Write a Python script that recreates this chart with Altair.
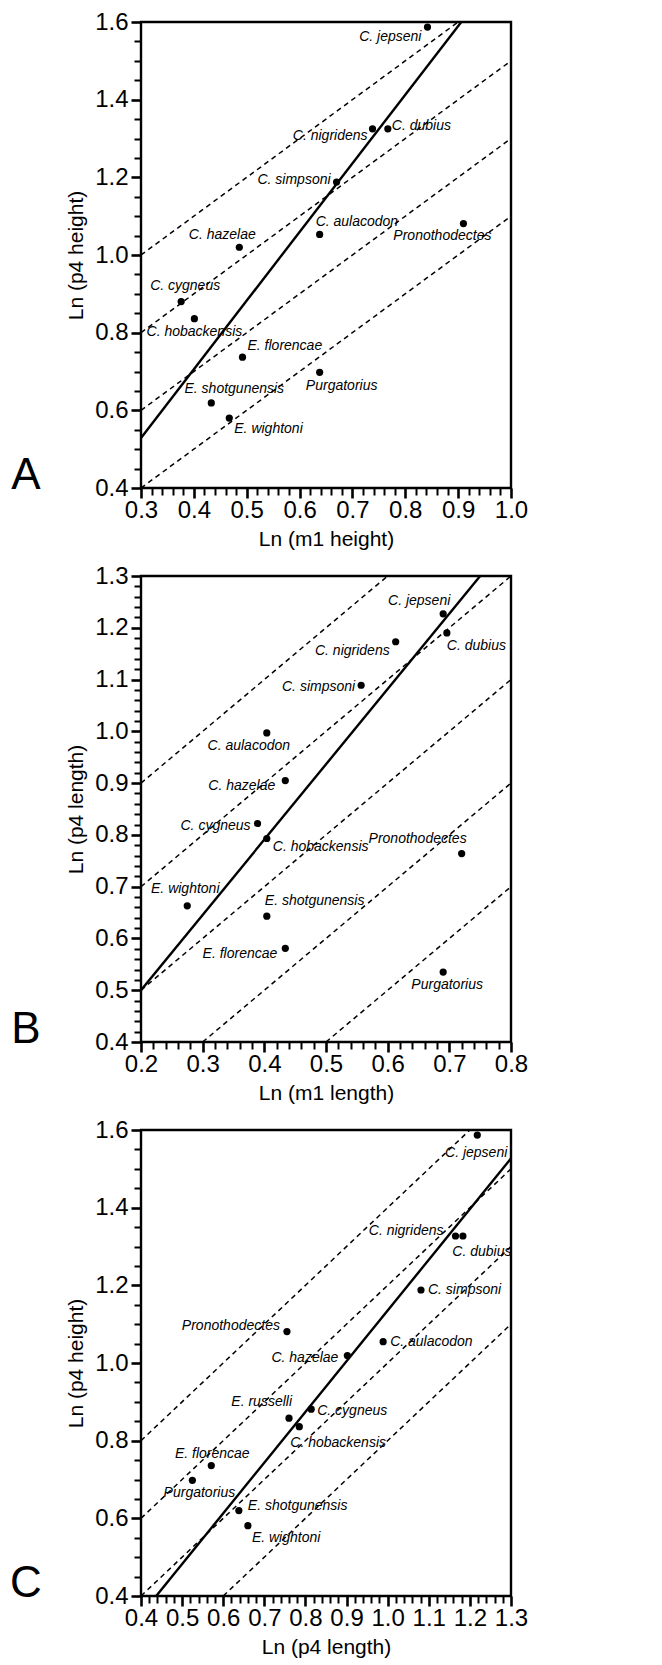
import altair as alt
import pandas as pd

# ---------------- Panel A : Ln(m1 height) vs Ln(p4 height) ----------------
a_names = ["C. jepseni", "C. nigridens", "C. dubius", "C. simpsoni", "C. aulacodon",
           "Pronothodectes", "C. hazelae", "C. cygneus", "C. hobackensis",
           "E. florencae", "Purgatorius", "E. shotgunensis", "E. wightoni"]
a_x = [0.842, 0.738, 0.767, 0.670, 0.638, 0.910, 0.486, 0.376, 0.401, 0.492, 0.638, 0.433, 0.467]
a_y = [1.587, 1.325, 1.325, 1.188, 1.053, 1.081, 1.020, 0.880, 0.836, 0.737, 0.698, 0.619, 0.580]
a_fit_x = [0.3, 0.906]
a_fit_y = [0.529, 1.6]
a_dash_x0 = [0.3, 0.3, 0.3, 0.3]
a_dash_y0 = [1.0, 0.8, 0.6, 0.4]
a_dash_x1 = [0.9, 1.0, 1.0, 1.0]
a_dash_y1 = [1.6, 1.5, 1.3, 1.1]

# ---------------- Panel B : Ln(m1 length) vs Ln(p4 length) ----------------
b_names = ["C. jepseni", "C. dubius", "C. nigridens", "C. simpsoni", "C. aulacodon",
           "C. hazelae", "C. cygneus", "C. hobackensis", "Pronothodectes",
           "E. wightoni", "E. shotgunensis", "E. florencae", "Purgatorius"]
b_x = [0.690, 0.696, 0.613, 0.557, 0.404, 0.434, 0.389, 0.404, 0.720, 0.275, 0.404, 0.434, 0.690]
b_y = [1.227, 1.190, 1.173, 1.089, 0.997, 0.905, 0.822, 0.793, 0.764, 0.663, 0.643, 0.581, 0.535]
b_fit_x = [0.2, 0.75]
b_fit_y = [0.5, 1.3]
b_dash_x0 = [0.2, 0.2, 0.2, 0.3, 0.5]
b_dash_y0 = [0.9, 0.7, 0.5, 0.4, 0.4]
b_dash_x1 = [0.6, 0.8, 0.8, 0.8, 0.8]
b_dash_y1 = [1.3, 1.3, 1.1, 0.9, 0.7]

# ---------------- Panel C : Ln(p4 length) vs Ln(p4 height) ----------------
c_names = ["C. jepseni", "C. nigridens", "C. dubius", "C. simpsoni", "C. aulacodon",
           "Pronothodectes", "C. hazelae", "E. russelli", "C. cygneus", "C. hobackensis",
           "E. florencae", "Purgatorius", "E. shotgunensis", "E. wightoni"]
c_x = [1.218, 1.165, 1.183, 1.081, 0.989, 0.755, 0.902, 0.760, 0.814, 0.785, 0.571, 0.525, 0.638, 0.660]
c_y = [1.587, 1.327, 1.327, 1.188, 1.055, 1.081, 1.019, 0.858, 0.881, 0.836, 0.736, 0.698, 0.620, 0.581]
c_fit_x = [0.437, 1.3]
c_fit_y = [0.4, 1.527]
c_dash_x0 = [0.4, 0.4, 0.4, 0.6]
c_dash_y0 = [0.8, 0.6, 0.4, 0.4]
c_dash_x1 = [1.2, 1.3, 1.3, 1.3]
c_dash_y1 = [1.6, 1.5, 1.3, 1.1]

# tick values: all ticks (minor + major); labelled ticks every `step`
a_xticks = [round(0.3 + 0.02 * i, 2) for i in range(36)]
a_yticks = [round(0.4 + 0.05 * i, 2) for i in range(25)]
b_xticks = [round(0.2 + 0.02 * i, 2) for i in range(31)]
b_yticks = [round(0.4 + 0.02 * i, 2) for i in range(46)]
c_xticks = [round(0.4 + 0.02 * i, 2) for i in range(46)]
c_yticks = [round(0.4 + 0.05 * i, 2) for i in range(25)]
a_xstep, a_ystep = 0.1, 0.2
b_xstep, b_ystep = 0.1, 0.1
c_xstep, c_ystep = 0.1, 0.2

# label placement (align, dx, dy) -- layout only
a_lab = {"C. jepseni": ("right", -6, 10), "C. nigridens": ("right", -5, 7),
         "C. dubius": ("left", 4, -3), "C. simpsoni": ("right", -6, -2),
         "C. aulacodon": ("left", -4, -12), "Pronothodectes": ("right", 28, 12),
         "C. hazelae": ("center", -17, -12), "C. cygneus": ("center", 4, -16),
         "C. hobackensis": ("center", 0, 13), "E. florencae": ("left", 5, -11),
         "Purgatorius": ("center", 22, 14), "E. shotgunensis": ("center", 23, -14),
         "E. wightoni": ("left", 5, 11)}
b_lab = {"C. jepseni": ("center", -24, -13), "C. dubius": ("left", 0, 13),
         "C. nigridens": ("right", -6, 9), "C. simpsoni": ("right", -6, 2),
         "C. aulacodon": ("center", -18, 13), "C. hazelae": ("right", -10, 5),
         "C. cygneus": ("right", -7, 3), "C. hobackensis": ("left", 6, 8),
         "Pronothodectes": ("right", 5, -15), "E. wightoni": ("center", -2, -17),
         "E. shotgunensis": ("left", -2, -15), "E. florencae": ("right", -8, 6),
         "Purgatorius": ("center", 4, 13)}
c_lab = {"C. jepseni": ("right", 30, 18), "C. nigridens": ("right", -12, -5),
         "C. dubius": ("center", 19, 16), "C. simpsoni": ("left", 7, 0),
         "C. aulacodon": ("left", 7, 0), "Pronothodectes": ("right", -7, -6),
         "C. hazelae": ("right", -9, 2), "E. russelli": ("right", 3, -16),
         "C. cygneus": ("left", 6, 2), "C. hobackensis": ("left", -9, 16),
         "E. florencae": ("center", 1, -12), "Purgatorius": ("center", 7, 13),
         "E. shotgunensis": ("left", 9, -5), "E. wightoni": ("left", 4, 12)}

W, H = 370, 466
FONT = "Liberation Sans"


def make_axis(ticks, step, title, orient, label_pad, title_pad):
    k = round(1 / step)
    test = f"abs(datum.value * {k} - round(datum.value * {k})) < 0.001"
    return alt.Axis(
        values=ticks, title=title, orient=orient, domain=False, grid=False,
        ticks=True, tickColor="black",
        tickSize={"condition": {"test": test, "value": 10}, "value": 7},
        tickWidth={"condition": {"test": test, "value": 2.6}, "value": 2},
        labelExpr=f"({test}) ? format(datum.value, '.1f') : ''",
        labelPadding=label_pad, titlePadding=title_pad,
        labelFlush=False, labelOverlap=False)


def panel(letter, names, xs, ys, lab, fit_x, fit_y, dx0, dy0, dx1, dy1,
          xdom, ydom, xticks, xstep, yticks, ystep, xtitle, ytitle):
    df = pd.DataFrame({"name": names, "x": xs, "y": ys})
    xsc = alt.Scale(domain=xdom, nice=False, zero=False)
    ysc = alt.Scale(domain=ydom, nice=False, zero=False)
    xax = make_axis(xticks, xstep, xtitle, "bottom", 0, 6)
    yax = make_axis(yticks, ystep, ytitle, "left", 3, 8)

    def X(f):
        return alt.X(f, type="quantitative", scale=xsc, axis=xax)

    def Y(f):
        return alt.Y(f, type="quantitative", scale=ysc, axis=yax)

    base = alt.Chart(df)
    pts = base.mark_circle(size=52, color="black", opacity=1).encode(x=X("x"), y=Y("y"))

    ddf = pd.DataFrame({"x0": dx0, "y0": dy0, "x1": dx1, "y1": dy1})
    dashed = alt.Chart(ddf).mark_rule(
        color="black", strokeWidth=1.5, strokeDash=[5, 4], clip=True).encode(
        x=X("x0"), y=Y("y0"), x2="x1:Q", y2="y1:Q")
    fdf = pd.DataFrame({"x0": [fit_x[0]], "y0": [fit_y[0]], "x1": [fit_x[1]], "y1": [fit_y[1]]})
    solid = alt.Chart(fdf).mark_rule(color="black", strokeWidth=2.4, clip=True).encode(
        x=X("x0"), y=Y("y0"), x2="x1:Q", y2="y1:Q")
    texts = []
    for n in names:
        al, ddx, ddy = lab[n]
        texts.append(base.transform_filter(alt.datum.name == n).mark_text(
            align=al, baseline="middle", dx=ddx, dy=ddy, font=FONT,
            fontSize=14, fontStyle="italic", color="black").encode(
            x=X("x"), y=Y("y"), text="name:N"))
    let = alt.Chart(pd.DataFrame({"t": [letter]})).mark_text(
        align="center", baseline="alphabetic", font=FONT, fontSize=44,
        color="black").encode(x=alt.value(-115), y=alt.value(H + 1), text="t:N")
    return alt.layer(pts, dashed, solid, *texts, let).properties(width=W, height=H)


pa = panel("A", a_names, a_x, a_y, a_lab, a_fit_x, a_fit_y, a_dash_x0, a_dash_y0,
           a_dash_x1, a_dash_y1, [0.3, 1.0], [0.4, 1.6], a_xticks, a_xstep, a_yticks, a_ystep,
           "Ln (m1 height)", "Ln (p4 height)")
pb = panel("B", b_names, b_x, b_y, b_lab, b_fit_x, b_fit_y, b_dash_x0, b_dash_y0,
           b_dash_x1, b_dash_y1, [0.2, 0.8], [0.4, 1.3], b_xticks, b_xstep, b_yticks, b_ystep,
           "Ln (m1 length)", "Ln (p4 length)")
pc = panel("C", c_names, c_x, c_y, c_lab, c_fit_x, c_fit_y, c_dash_x0, c_dash_y0,
           c_dash_x1, c_dash_y1, [0.4, 1.3], [0.4, 1.6], c_xticks, c_xstep, c_yticks, c_ystep,
           "Ln (p4 length)", "Ln (p4 height)")

chart = alt.vconcat(pa, pb, pc, spacing=11).properties(
    padding={"left": 0, "top": 0, "right": 5, "bottom": 0}
).configure_view(stroke="black", strokeWidth=2.4).configure_axis(
    labelFont=FONT, labelFontSize=24, labelColor="black",
    titleFont=FONT, titleFontSize=21, titleFontWeight="normal",
    titleColor="black", tickColor="black"
)

chart.save("out.html", embed_options={"renderer": "svg", "actions": False})
